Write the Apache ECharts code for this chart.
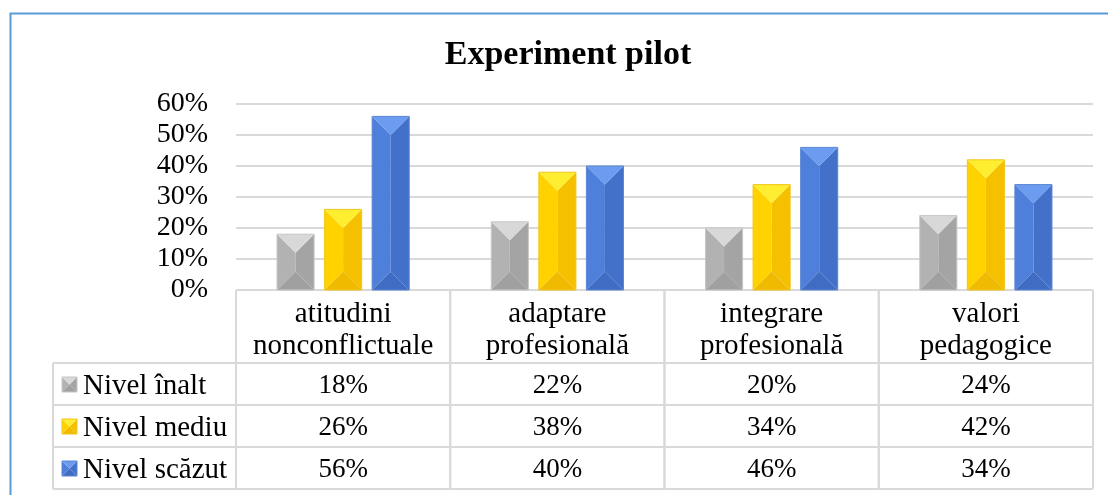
<!DOCTYPE html>
<html>
<head>
<meta charset="utf-8">
<script src="https://cdn.jsdelivr.net/npm/echarts@6/dist/echarts.min.js"></script>
<style>html,body{margin:0;padding:0;background:#fff}#c{width:1108px;height:495px}</style>
</head>
<body>
<div id="c"></div>
<script>
const categories = ['atitudini\nnonconflictuale', 'adaptare\nprofesională', 'integrare\nprofesională', 'valori\npedagogice'];
const levels = ['Nivel înalt', 'Nivel mediu', 'Nivel scăzut'];
const nivelInalt = [18, 22, 20, 24];
const nivelMediu = [26, 38, 34, 42];
const nivelScazut = [56, 40, 46, 34];
const yTicks = [0, 10, 20, 30, 40, 50, 60];

const seriesValues = [nivelInalt, nivelMediu, nivelScazut];
const palettes = [
  {top: '#d8d8d8', left: '#b2b2b2', right: '#a4a4a4', bottom: '#a0a0a0', edge: '#c6c6c6'},
  {top: '#ffee30', left: '#ffd200', right: '#f4c000', bottom: '#efba00', edge: '#f2c51c'},
  {top: '#6c9cf0', left: '#4e7fda', right: '#4371c9', bottom: '#416cc3', edge: '#5a86d2'}
];
const FONT = "'Liberation Serif', 'Times New Roman', serif";
const LINE = '#d9d9d9';

function bevel(x, y, w, h, c) {
  const d = Math.min(w / 2, h / 2);
  const cx = x + w / 2;
  const TL = [x, y], TR = [x + w, y], BL = [x, y + h], BR = [x + w, y + h];
  const A = [cx, y + d], B = [cx, y + h - d];
  return [
    {type: 'polygon', shape: {points: [TL, A, B, BL]}, style: {fill: c.left}},
    {type: 'polygon', shape: {points: [TR, A, B, BR]}, style: {fill: c.right}},
    {type: 'polygon', shape: {points: [TL, TR, A]}, style: {fill: c.top}},
    {type: 'polygon', shape: {points: [BL, BR, B]}, style: {fill: c.bottom}},
    {type: 'rect', shape: {x: x, y: y, width: w, height: h}, style: {fill: null, stroke: c.edge, lineWidth: 1}}
  ];
}

function barSeries(si) {
  return {
    type: 'custom',
    name: levels[si],
    data: seriesValues[si].map((v, i) => [i, v]),
    encode: {x: 0, y: 1},
    clip: false,
    silent: true,
    renderItem: function (params, api) {
      const i = api.value(0), v = api.value(1);
      const p = api.coord([i, v]);
      const base = api.coord([i, 0]);
      const band = api.size([1, 0])[0];
      const w = band * 0.173;
      const cx = p[0] + (si - 1) * band * 0.222;
      return {type: 'group', children: bevel(cx - w / 2, p[1], w, base[1] - p[1], palettes[si])};
    }
  };
}

function hline(x1, x2, y) {
  return {type: 'line', shape: {x1: x1, y1: y, x2: x2, y2: y}, style: {stroke: LINE, lineWidth: 2}};
}
function vline(x, y1, y2) {
  return {type: 'line', shape: {x1: x, y1: y1, x2: x, y2: y2}, style: {stroke: LINE, lineWidth: 2}};
}
function txt(str, x, y, size, align) {
  return {type: 'text', style: {text: str, x: x, y: y, align: align || 'center', verticalAlign: 'middle',
    font: size + 'px ' + FONT, fill: '#000', lineHeight: 32}};
}

const HEAD = 73, ROW = 42, LEG = 183;

const tableSeries = {
  type: 'custom',
  data: categories.map((c, i) => [i, 0]),
  encode: {x: 0, y: 1},
  clip: false,
  silent: true,
  z: 1,
  renderItem: function (params, api) {
    const i = api.value(0);
    const c = api.coord([i, 0]);
    const band = api.size([1, 0])[0];
    const left = c[0] - band / 2, right = c[0] + band / 2;
    const y0 = c[1];
    const ch = [];
    ch.push(vline(left, y0, y0 + HEAD + 3 * ROW));
    ch.push(vline(right, y0, y0 + HEAD + 3 * ROW));
    ch.push(txt(categories[i], c[0], y0 + HEAD / 2 + 4, 29));
    for (let r = 0; r < 3; r++) {
      const ry = y0 + HEAD + r * ROW;
      ch.push(hline(left, right, ry));
      ch.push(txt(seriesValues[r][i] + '%', c[0], ry + ROW / 2 + 2, 27));
    }
    ch.push(hline(left, right, y0 + HEAD + 3 * ROW));
    if (i === 0) {
      const lx = left - LEG;
      ch.push(vline(lx, y0 + HEAD, y0 + HEAD + 3 * ROW));
      for (let r = 0; r < 3; r++) {
        const ry = y0 + HEAD + r * ROW;
        ch.push(hline(lx, left, ry));
        bevel(lx + 9, ry + ROW / 2 - 7, 15, 15, palettes[r]).forEach(e => ch.push(e));
        ch.push(txt(levels[r], lx + 30, ry + ROW / 2 + 2, 29, 'left'));
      }
      ch.push(hline(lx, left, y0 + HEAD + 3 * ROW));
    }
    return {type: 'group', children: ch};
  }
};

const chart = echarts.init(document.getElementById('c'), null, {renderer: 'canvas'});
chart.setOption({
  animation: false,
  backgroundColor: '#fff',
  title: {
    text: 'Experiment pilot', left: 563, top: 33, textAlign: 'center',
    textStyle: {fontFamily: FONT, fontSize: 34, fontWeight: 'bold', color: '#000'}
  },
  graphic: [{
    type: 'rect', left: 8, top: 11, shape: {width: 1300, height: 700},
    style: {fill: null, stroke: '#5b9bd5', lineWidth: 2}, silent: true
  }],
  grid: {left: 236, right: 15, top: 104, bottom: 205, containLabel: false},
  xAxis: {
    type: 'category', data: categories, boundaryGap: true,
    axisLine: {show: false}, axisTick: {show: false}, axisLabel: {show: false}
  },
  yAxis: {
    type: 'value', min: yTicks[0], max: yTicks[yTicks.length - 1], interval: yTicks[1] - yTicks[0],
    axisLine: {show: false}, axisTick: {show: false},
    axisLabel: {formatter: '{value}%', margin: 28, color: '#000', fontFamily: FONT, fontSize: 28},
    splitLine: {lineStyle: {color: LINE, width: 2}}
  },
  series: [tableSeries, barSeries(0), barSeries(1), barSeries(2)]
});
</script>
</body>
</html>
